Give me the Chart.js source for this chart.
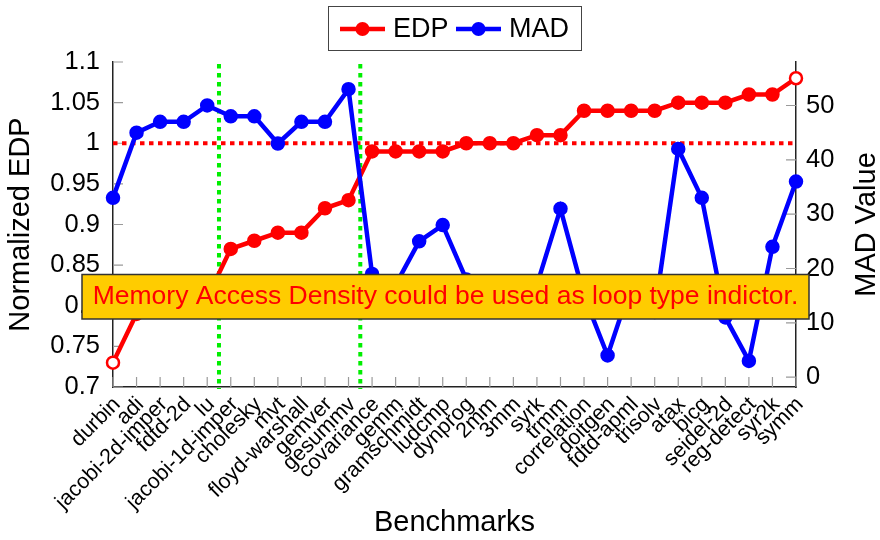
<!DOCTYPE html>
<html lang="en">
<head>
<meta charset="UTF-8">
<title>Normalized EDP and MAD per benchmark</title>
<script src="https://cdn.jsdelivr.net/npm/chart.js"></script>
<style>
  html, body { margin: 0; padding: 0; background: #fff; }
  #chart { display: block; }
</style>
</head>
<body>
<canvas id="chart" width="880" height="540"></canvas>
<script>
// data (hidden points behind the note are estimated)
const benchmarks = ['durbin', 'adi', 'jacobi-2d-imper', 'fdtd-2d', 'lu', 'jacobi-1d-imper', 'cholesky', 'mvt',
  'floyd-warshall', 'gemver', 'gesummv', 'covariance', 'gemm', 'gramschmidt', 'ludcmp', 'dynprog', '2mm', '3mm',
  'syrk', 'trmm', 'correlation', 'doitgen', 'fdtd-apml', 'trisolv', 'atax', 'bicg', 'seidel-2d', 'reg-detect',
  'syr2k', 'symm'];
const edpValues = [0.73, 0.79, 0.80, 0.80, 0.81, 0.87, 0.88, 0.89, 0.89, 0.92, 0.93, 0.99, 0.99, 0.99, 0.99,
  1.00, 1.00, 1.00, 1.01, 1.01, 1.04, 1.04, 1.04, 1.04, 1.05, 1.05, 1.05, 1.06, 1.06, 1.08];
const madValues = [33, 45, 47, 47, 50, 48, 48, 43, 47, 47, 53, 19, 17, 25, 28, 18, 14, 13, 17, 31, 15, 4, 17, 12,
  42, 33, 11, 3, 24, 36];
const edpTicks = [0.7, 0.75, 0.8, 0.85, 0.9, 0.95, 1, 1.05, 1.1];
const madTicks = [0, 10, 20, 30, 40, 50];
const edpBaseline = 1;
const groupSplits = [4.5, 10.5];   // green separators, in category index units
const noteText = 'Memory Access Density could be used as loop type indictor.';

const FONT = "'Liberation Sans', Arial, Helvetica, sans-serif";
Chart.defaults.font.family = FONT;
Chart.defaults.color = '#000';

function tickMarks(chart) {
  const ctx = chart.ctx;
  const { x, y, y1 } = chart.scales;
  const area = chart.chartArea;
  ctx.save();
  ctx.strokeStyle = '#9a9a9a';
  ctx.lineWidth = 1.2;
  ctx.beginPath();
  y.ticks.forEach(t => {
    const p = y.getPixelForValue(t.value);
    ctx.moveTo(area.left, p); ctx.lineTo(area.left + 10, p);
  });
  y1.ticks.forEach(t => {
    const p = y1.getPixelForValue(t.value);
    ctx.moveTo(area.right, p); ctx.lineTo(area.right - 10, p);
  });
  benchmarks.forEach((b, i) => {
    const p = x.getPixelForValue(i);
    ctx.moveTo(p, area.bottom); ctx.lineTo(p, area.bottom - 10);
  });
  ctx.stroke();
  ctx.restore();
}

const decor = {
  id: 'decor',
  beforeDatasetsDraw(chart) {
    const ctx = chart.ctx;
    const { x, y } = chart.scales;
    const area = chart.chartArea;
    tickMarks(chart);
    ctx.save();
    ctx.lineWidth = 4;
    ctx.setLineDash([4.5, 4.5]);
    // red dotted baseline
    ctx.strokeStyle = '#ff0000';
    const by = y.getPixelForValue(edpBaseline);
    ctx.beginPath(); ctx.moveTo(area.left, by); ctx.lineTo(area.right, by); ctx.stroke();
    // green group separators
    ctx.strokeStyle = '#00ee00';
    groupSplits.forEach(s => {
      const px = x.getPixelForValue(s);
      ctx.beginPath(); ctx.moveTo(px, area.top + 2); ctx.lineTo(px, area.bottom + 2); ctx.stroke();
    });
    ctx.restore();
  },
  afterDraw(chart) {
    const ctx = chart.ctx;
    const area = chart.chartArea;
    ctx.save();

    // legend box
    ctx.fillStyle = '#fff';
    ctx.fillRect(328.5, 6.5, 253, 44);
    ctx.strokeStyle = '#444';
    ctx.lineWidth = 1;
    ctx.strokeRect(328.5, 6.5, 253, 44);
    const items = [
      { label: 'EDP', color: '#ff0000', x0: 340 },
      { label: 'MAD', color: '#0000ff', x0: 456 }
    ];
    ctx.font = '27px ' + FONT;
    ctx.textBaseline = 'middle';
    ctx.textAlign = 'left';
    items.forEach(it => {
      ctx.strokeStyle = it.color;
      ctx.lineWidth = 4.5;
      ctx.beginPath(); ctx.moveTo(it.x0, 29); ctx.lineTo(it.x0 + 45, 29); ctx.stroke();
      ctx.fillStyle = it.color;
      ctx.beginPath(); ctx.arc(it.x0 + 22.5, 29, 7, 0, Math.PI * 2); ctx.fill();
      ctx.fillStyle = '#000';
      ctx.fillText(it.label, it.x0 + 53, 30);
    });

    // right axis title, reads bottom to top like the left one
    ctx.save();
    ctx.translate(867, (area.top + area.bottom) / 2);
    ctx.rotate(-Math.PI / 2);
    ctx.font = '29px ' + FONT;
    ctx.textAlign = 'center';
    ctx.fillStyle = '#000';
    ctx.fillText('MAD Value', 0, 0);
    ctx.restore();

    // note box on top of everything
    ctx.fillStyle = '#ffcc00';
    ctx.fillRect(82, 274.5, 727, 44.5);
    ctx.strokeStyle = '#333';
    ctx.lineWidth = 1.5;
    ctx.strokeRect(82, 274.5, 727, 44.5);
    ctx.fillStyle = '#ff0000';
    ctx.font = '26.5px ' + FONT;
    ctx.textAlign = 'center';
    ctx.textBaseline = 'middle';
    ctx.fillText(noteText, 445.5, 297);
    ctx.restore();
  }
};

const lastIdx = edpValues.length - 1;

new Chart(document.getElementById('chart'), {
  type: 'line',
  data: {
    labels: benchmarks,
    datasets: [
      {
        label: 'EDP',
        data: edpValues,
        yAxisID: 'y',
        order: 1,
        borderColor: '#ff0000',
        borderWidth: 4.5,
        pointRadius: 6,
        pointBorderWidth: 2.5,
        pointBorderColor: '#ff0000',
        pointBackgroundColor: c => (c.dataIndex === 0 || c.dataIndex === lastIdx) ? '#ffffff' : '#ff0000',
        tension: 0
      },
      {
        label: 'MAD',
        data: madValues,
        yAxisID: 'y1',
        order: 0,
        borderColor: '#0000ff',
        borderWidth: 4.5,
        pointRadius: 6,
        pointBorderWidth: 2.5,
        pointBorderColor: '#0000ff',
        pointBackgroundColor: '#0000ff',
        tension: 0
      }
    ]
  },
  options: {
    responsive: false,
    animation: false,
    devicePixelRatio: 1,
    layout: { padding: { top: 62, left: 0, right: 0, bottom: 0 } },
    plugins: {
      legend: { display: false },
      tooltip: { enabled: false }
    },
    scales: {
      x: {
        type: 'category',
        offset: false,
        grid: { drawOnChartArea: false, drawTicks: false },
        border: { color: '#222', width: 1.5 },
        ticks: {
          autoSkip: false, minRotation: 45, maxRotation: 45, padding: 5, labelOffset: 4,
          font: { size: 21.5 }, color: '#000'
        },
        title: {
          display: true, text: 'Benchmarks', color: '#000',
          font: { size: 29 }, padding: { top: 0, bottom: 0 }
        },
        afterFit: s => { s.height = 153; }
      },
      y: {
        position: 'left',
        min: 0.7,
        max: 1.1,
        grid: { drawOnChartArea: false, drawTicks: false },
        border: { color: '#222', width: 1.5 },
        afterBuildTicks: s => { s.ticks = edpTicks.map(v => ({ value: v })); },
        ticks: {
          padding: 13, font: { size: 25.5 }, color: '#000',
          callback: v => String(+Number(v).toFixed(2))
        },
        title: {
          display: true, text: 'Normalized EDP', color: '#000',
          font: { size: 29 }, padding: { top: 4, bottom: 0 }
        },
        afterFit: s => { s.width = 113; }
      },
      y1: {
        position: 'right',
        min: -1.8,
        max: 58,
        grid: { drawOnChartArea: false, drawTicks: false },
        border: { color: '#222', width: 1.5 },
        afterBuildTicks: s => { s.ticks = madTicks.map(v => ({ value: v })); },
        ticks: { padding: 10, font: { size: 25.5 }, color: '#000' },
        afterFit: s => { s.width = 84; }
      }
    }
  },
  plugins: [decor]
});
</script>
</body>
</html>
